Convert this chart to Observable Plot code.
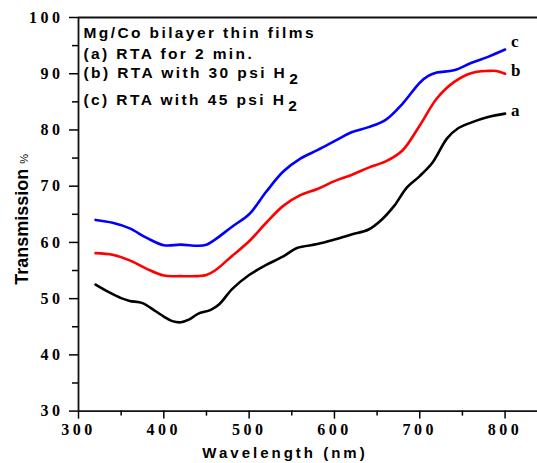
<!DOCTYPE html>
<html>
<head>
<meta charset="utf-8">
<script src="https://cdn.jsdelivr.net/npm/d3@7"></script>
<script src="https://cdn.jsdelivr.net/npm/@observablehq/plot@0.6"></script>
<style>
  body { margin: 0; background: #fff; }
  #chart svg { display: block; background: #fff; }
  g[aria-label="x-axis tick label"] text,
  g[aria-label="y-axis tick label"] text { letter-spacing: 3.5px; }
</style>
</head>
<body>
<div id="chart"></div>
<script>
// ---- data ----
const seriesKeys = ["a", "b", "c"];
const seriesColors = ["#000000", "#ff0000", "#0000ff"];

const wlA = [320,335,350,360,375,390,400,410,420,430,440,455,465,480,500,520,540,556,580,600,620,640,655,670,685,700,715,732,745,760,780,800];
const tA  = [52.5,51.2,50.1,49.6,49.2,47.8,46.8,46.0,45.8,46.3,47.3,48.0,49.0,51.7,54.2,56.0,57.5,59.0,59.7,60.5,61.4,62.3,64.0,66.5,69.8,71.8,74.2,78.5,80.3,81.3,82.3,82.9];

const wlB = [320,340,360,380,400,420,440,450,460,480,500,520,540,560,580,600,620,640,660,680,700,720,740,760,780,790,800];
const tB  = [58.1,57.8,56.8,55.3,54.1,54.0,54.0,54.2,55.0,57.6,60.2,63.5,66.5,68.4,69.5,70.9,72.0,73.3,74.4,76.4,80.8,85.6,88.5,90.1,90.5,90.5,90.0];

const wlC = [320,340,360,380,400,420,440,450,460,480,500,520,540,560,580,600,620,640,660,680,700,710,720,740,760,780,800];
const tC  = [64.0,63.5,62.5,60.8,59.5,59.6,59.4,59.6,60.5,62.8,65.0,69.0,72.6,74.9,76.4,78.0,79.6,80.5,81.8,84.7,88.4,89.6,90.2,90.6,91.9,93.0,94.3];

const xMajor = [300, 400, 500, 600, 700, 800];
const xMinor = [350, 450, 550, 650, 750];
const yMajor = [30, 40, 50, 60, 70, 80, 90, 100];
const yMinor = [35, 45, 55, 65, 75, 85, 95];

const legendLines = [
  "Mg/Co bilayer thin films",
  "(a) RTA for 2 min.",
  "(b) RTA with 30 psi H2",
  "(c) RTA with 45 psi H2"
];
const xTitle = "Wavelength (nm)";
const yTitle = "Transmission %";

// ---- build table ----
const wls = [wlA, wlB, wlC];
const ts = [tA, tB, tC];
const rows = seriesKeys.flatMap((k, s) => wls[s].map((w, i) => ({series: k, wl: w, t: ts[s][i]})));
const ends = rows.filter((d, i) => i === rows.length - 1 || rows[i + 1].series !== d.series);

const serif = "'Liberation Serif', 'Times New Roman', serif";
const sans = "'Liberation Sans', Arial, sans-serif";
const legendDy = [15.7, 37, 56, 83];

const plot = Plot.plot({
  width: 537,
  height: 463,
  marginLeft: 78,
  marginRight: 0,
  marginTop: 17,
  marginBottom: 52.4,
  x: {domain: [300, 838]},
  y: {domain: [30, 100]},
  color: {domain: seriesKeys, range: seriesColors},
  marks: [
    Plot.ruleY([30, 100], {stroke: "#111", strokeWidth: 1.8}),
    Plot.ruleX([300], {stroke: "#111", strokeWidth: 1.8}),
    Plot.axisX(xMajor, {tickSize: 8, tickPadding: 5, fontSize: 16, fontFamily: serif, fontWeight: "bold", label: null, strokeWidth: 1.5, tickFormat: d => String(d)}),
    Plot.axisX(xMinor, {tickSize: 5, tickFormat: () => "", label: null, strokeWidth: 1.5}),
    Plot.axisY(yMajor, {tickSize: 9, tickPadding: 6, fontSize: 16, fontFamily: serif, fontWeight: "bold", label: null, strokeWidth: 1.5, tickFormat: d => String(d)}),
    Plot.axisY(yMinor, {tickSize: 6, tickFormat: () => "", label: null, strokeWidth: 1.5}),
    Plot.line(rows, {x: "wl", y: "t", z: "series", stroke: "series", strokeWidth: 2.6, curve: "catmull-rom"}),
    Plot.text(ends.filter(d => d.series !== "c"), {x: "wl", y: "t", text: "series", dx: 6, dy: -3, textAnchor: "start", fontFamily: serif, fontWeight: "bold", fontSize: 17}),
    Plot.text(ends.filter(d => d.series === "c"), {x: "wl", y: "t", text: "series", dx: 6, dy: -8, textAnchor: "start", fontFamily: serif, fontWeight: "bold", fontSize: 17}),
    ...legendLines.map((s, i) => Plot.text([s], {text: d => d, frameAnchor: "top-left", dx: 5, dy: legendDy[i], textAnchor: "start", lineAnchor: "middle", fontFamily: sans, fontWeight: "bold", fontSize: 15.5})),
    Plot.text([xTitle], {text: d => d, frameAnchor: "bottom", dx: -23, dy: 42, textAnchor: "middle", lineAnchor: "middle", fontFamily: sans, fontWeight: "bold", fontSize: 15}),
    Plot.text([yTitle], {text: d => d, frameAnchor: "left", rotate: -90, dx: -56, dy: 5, textAnchor: "middle", lineAnchor: "middle", fontFamily: sans, fontWeight: "bold", fontSize: 18})
  ]
});

// letter spacing, subscripts and small percent sign
d3.select(plot).selectAll("text").each(function () {
  const t = this.textContent.trim();
  const sel = d3.select(this);
  if (legendLines.includes(t)) sel.attr("letter-spacing", "2.4");
  if (t === xTitle) sel.attr("letter-spacing", "3");
  if (/ H2$/.test(t)) {
    sel.text(t.slice(0, -1));
    sel.append("tspan").attr("dx", 2).attr("dy", 6).text("2");
  } else if (t === yTitle) {
    sel.text(t.slice(0, -1));
    sel.append("tspan").attr("font-size", 11).attr("font-weight", "normal").text("%");
  }
});

document.getElementById("chart").appendChild(plot);
</script>
</body>
</html>
